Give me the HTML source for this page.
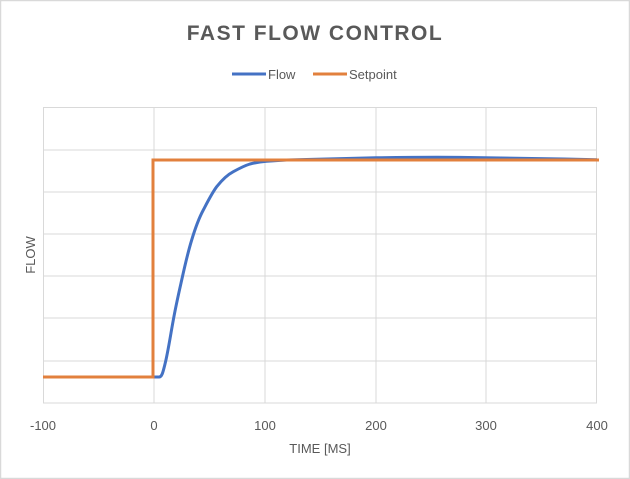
<!DOCTYPE html>
<html><head><style>
body{margin:0;background:#fff;}
svg{display:block;font-family:"Liberation Sans",sans-serif;}
</style></head><body>
<svg width="630" height="479" viewBox="0 0 630 479">
<rect x="0.5" y="0.5" width="629" height="478" fill="#fff" stroke="#d9d9d9" stroke-width="1.5"/>
<text x="315" y="40" text-anchor="middle" font-size="21" font-weight="bold" fill="#595959" letter-spacing="1.5">FAST FLOW CONTROL</text>
<line x1="232" y1="74" x2="266" y2="74" stroke="#4472c4" stroke-width="3"/>
<text x="268" y="79" font-size="13" fill="#595959">Flow</text>
<line x1="313" y1="74" x2="347" y2="74" stroke="#e2803d" stroke-width="3"/>
<text x="349" y="79" font-size="13" fill="#595959">Setpoint</text>
<g stroke="#d9d9d9" stroke-width="1">
<line x1="43" y1="107.5" x2="597" y2="107.5"/>
<line x1="43" y1="150" x2="597" y2="150"/>
<line x1="43" y1="192" x2="597" y2="192"/>
<line x1="43" y1="234" x2="597" y2="234"/>
<line x1="43" y1="276" x2="597" y2="276"/>
<line x1="43" y1="318" x2="597" y2="318"/>
<line x1="43" y1="361" x2="597" y2="361"/>
<line x1="43" y1="403" x2="597" y2="403"/>
<line x1="43.5" y1="107" x2="43.5" y2="403"/>
<line x1="154" y1="107" x2="154" y2="403"/>
<line x1="265" y1="107" x2="265" y2="403"/>
<line x1="376" y1="107" x2="376" y2="403"/>
<line x1="486" y1="107" x2="486" y2="403"/>
<line x1="596.5" y1="107" x2="596.5" y2="403"/>
</g>
<path fill="none" stroke="#4472c4" stroke-width="3" stroke-linejoin="round" d="M154,377 L159,377 C162,377 163,372 165,364 C168,352 170,338 173.3,320 C176,305 179,292 181.7,280 C185,265 188,252 191.7,240 C195,229 199,218 203.3,210 C208,201 212,193 216.7,186.7 C222,180 227,175 233.3,171.7 C240,168 245,165.5 250,164 C256,162.5 261,161.8 266.7,161.3 C275,160.7 281,160.3 286.7,160 C320,159 350,158.2 376,157.8 C410,157.3 440,157.2 460,157.4 C500,157.8 550,158.6 597,159.8"/>
<polyline fill="none" stroke="#e2803d" stroke-width="3" points="43,377 153,377 153,160 599,160"/>
<g font-size="13" fill="#595959" text-anchor="middle">
<text x="43" y="430">-100</text>
<text x="154" y="430">0</text>
<text x="265" y="430">100</text>
<text x="376" y="430">200</text>
<text x="486" y="430">300</text>
<text x="597" y="430">400</text>
<text x="320" y="453">TIME [MS]</text>
<text transform="translate(35,255) rotate(-90)">FLOW</text>
</g>
</svg>
</body></html>
